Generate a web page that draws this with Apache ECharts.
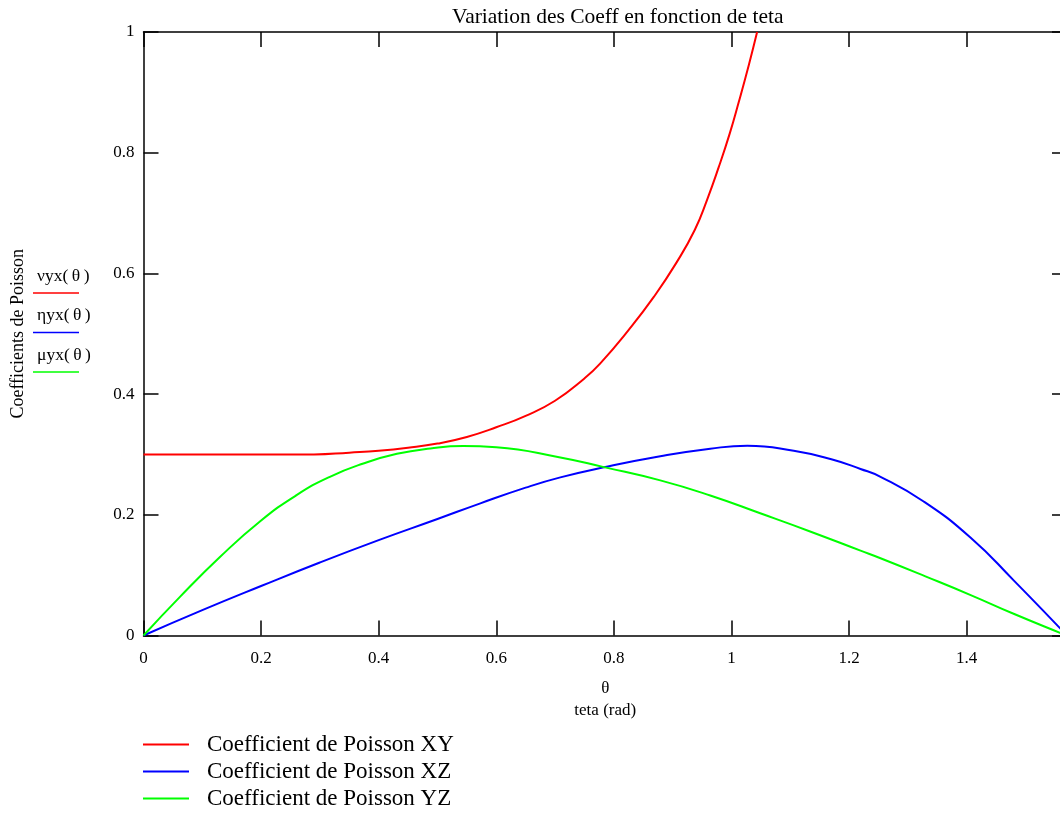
<!DOCTYPE html>
<html>
<head>
<meta charset="utf-8">
<title>Variation des Coeff en fonction de teta</title>
<script src="https://cdn.jsdelivr.net/npm/echarts@6/dist/echarts.min.js"></script>
<style>
  html, body { margin: 0; padding: 0; background: #fff; overflow: hidden; }
  #chart { width: 1067px; height: 814px; }
</style>
</head>
<body>
<div id="chart"></div>
<script>
// θ (rad) samples and Poisson coefficient values for each curve
const thetaXY = [0, 0.1, 0.2, 0.29, 0.35, 0.40, 0.45, 0.50, 0.55, 0.60, 0.65, 0.70, 0.75, 0.777, 0.825, 0.868, 0.906, 0.9376, 0.9586, 0.9784, 0.9972, 1.0125, 1.0295, 1.0437];
const nuYX    = [0.300, 0.300, 0.300, 0.300, 0.303, 0.306, 0.311, 0.318, 0.329, 0.345, 0.364, 0.389, 0.426, 0.451, 0.506, 0.561, 0.617, 0.672, 0.722, 0.776, 0.832, 0.884, 0.945, 1.000];

const thetaXZ = [0, 0.1, 0.2, 0.3, 0.4, 0.5, 0.573, 0.65, 0.709, 0.783, 0.879, 0.964, 1.027, 1.106, 1.17, 1.2196, 1.2536, 1.327, 1.407, 1.4805, 1.560, 1.5708];
const etaYX   = [0, 0.042, 0.082, 0.121, 0.158, 0.193, 0.219, 0.245, 0.262, 0.2787, 0.297, 0.3095, 0.3145, 0.306, 0.292, 0.276, 0.263, 0.222, 0.162, 0.091, 0.011, 0];

const thetaYZ = [0, 0.062, 0.13, 0.198, 0.261, 0.317, 0.374, 0.431, 0.488, 0.544, 0.60, 0.709, 0.783, 0.879, 0.964, 1.049, 1.135, 1.2196, 1.2536, 1.33, 1.407, 1.48, 1.560, 1.5708];
const muYX    = [0, 0.064, 0.130, 0.189, 0.233, 0.263, 0.285, 0.301, 0.310, 0.314, 0.312, 0.295, 0.279, 0.257, 0.232, 0.2025, 0.172, 0.1406, 0.128, 0.098, 0.067, 0.036, 0.004, 0];

const seriesNames = ['Coefficient de Poisson XY', 'Coefficient de Poisson XZ', 'Coefficient de Poisson YZ'];
const seriesColors = ['#ff0000', '#0000ff', '#00ff00'];
const innerLabels = ['νyx(\u2009θ\u2009)', 'ηyx(\u2009θ\u2009)', 'μyx(\u2009θ\u2009)'];

const pairs = (xs, ys) => xs.map((x, i) => [x, ys[i]]);

const FONT = '"Liberation Serif", "DejaVu Serif", serif';
const axisLine = { show: true, onZero: false, lineStyle: { color: '#000', width: 1.5 } };
const axisTick = { show: true, inside: true, length: 15, lineStyle: { color: '#000', width: 1.5 } };

const chart = echarts.init(document.getElementById('chart'), null, { renderer: 'canvas' });

// small legend block next to the vertical axis title
const innerLegend = [];
innerLabels.forEach((t, i) => {
  innerLegend.push({
    type: 'text', left: 37, top: 267 + i * 39.5,
    style: { text: t, font: '17.5px ' + FONT, fill: '#000' }
  });
  innerLegend.push({
    type: 'line', shape: { x1: 33, y1: 293 + i * 39.5, x2: 79, y2: 293 + i * 39.5 },
    style: { stroke: seriesColors[i], lineWidth: 1.5 }
  });
});

chart.setOption({
  animation: false,
  backgroundColor: '#fff',
  title: {
    text: 'Variation des Coeff en fonction de teta',
    left: 452, top: 6, padding: 0,
    textStyle: { fontFamily: FONT, fontSize: 21.5, fontWeight: 'normal', color: '#000' }
  },
  grid: { left: 143.5, top: 32, right: 0, bottom: 814 - 635.5 },
  legend: {
    orient: 'vertical', left: 143, top: 731, padding: 0,
    itemWidth: 46, itemHeight: 2, itemGap: 0,
    icon: 'rect',
    data: seriesNames,
    textStyle: { fontFamily: FONT, fontSize: 23, color: '#000', lineHeight: 27, padding: [0, 0, 0, 13] }
  },
  xAxis: [{
    type: 'value', min: 0, max: 1.5708, interval: 0.2,
    position: 'bottom',
    axisLine, axisTick,
    splitLine: { show: false },
    axisLabel: { showMaxLabel: false, margin: 15, fontFamily: FONT, fontSize: 17, color: '#000' },
    name: 'θ\nteta (rad)', nameLocation: 'middle', nameGap: 42,
    nameTextStyle: { fontFamily: FONT, fontSize: 17, color: '#000', lineHeight: 22 }
  }, {
    type: 'value', min: 0, max: 1.5708, interval: 0.2,
    position: 'top',
    axisLine, axisTick,
    splitLine: { show: false },
    axisLabel: { show: false }
  }],
  yAxis: [{
    type: 'value', min: 0, max: 1, interval: 0.2,
    position: 'left',
    axisLine, axisTick,
    splitLine: { show: false },
    axisLabel: { margin: 9, fontFamily: FONT, fontSize: 17, color: '#000' },
    name: 'Coefficients de Poisson', nameLocation: 'middle', nameGap: 116, nameRotate: 90,
    nameTextStyle: { fontFamily: FONT, fontSize: 18, color: '#000' }
  }, {
    type: 'value', min: 0, max: 1, interval: 0.2,
    position: 'right',
    axisLine, axisTick,
    splitLine: { show: false },
    axisLabel: { show: false }
  }],
  graphic: innerLegend,
  series: [
    { name: seriesNames[0], data: pairs(thetaXY, nuYX) },
    { name: seriesNames[1], data: pairs(thetaXZ, etaYX) },
    { name: seriesNames[2], data: pairs(thetaYZ, muYX) }
  ].map((s, i) => Object.assign(s, {
    type: 'line', xAxisIndex: 0, yAxisIndex: 0,
    showSymbol: false, smooth: 0.5, clip: true,
    color: seriesColors[i],
    lineStyle: { color: seriesColors[i], width: 2 }
  }))
});
</script>
</body>
</html>
